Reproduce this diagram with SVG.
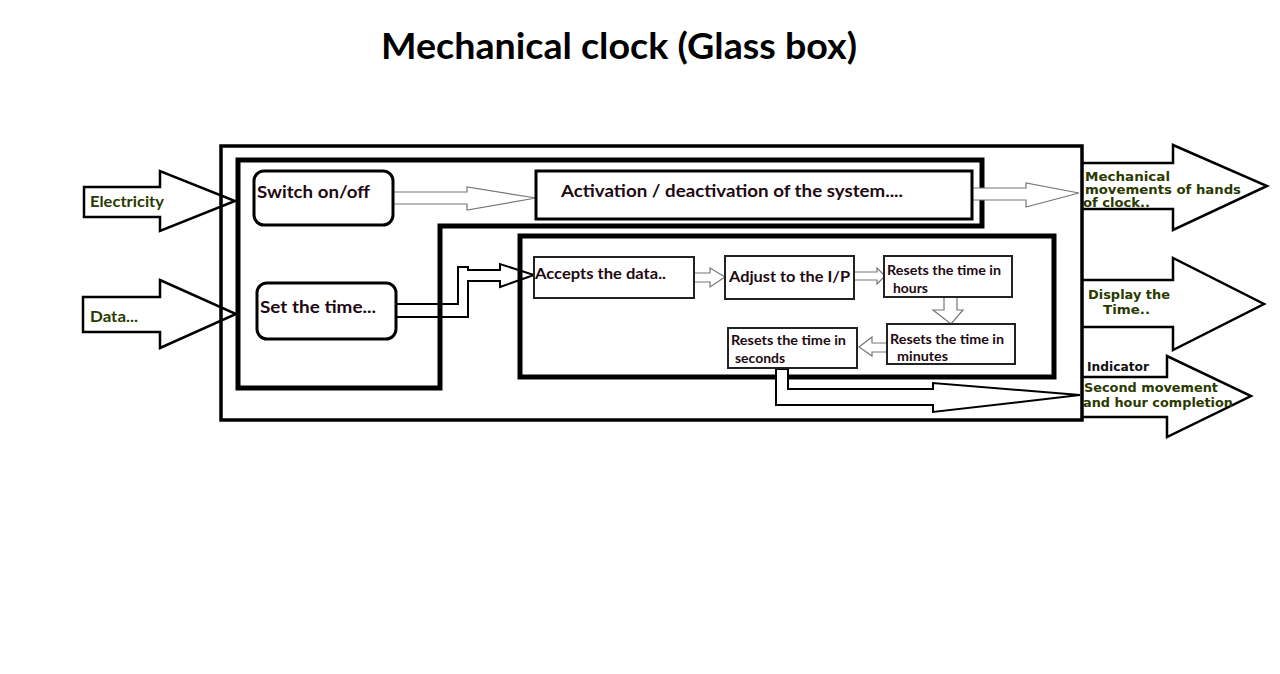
<svg xmlns="http://www.w3.org/2000/svg" width="1280" height="674" viewBox="0 0 1280 674">
<style>
.bx{font-family:Lato,"Liberation Sans",sans-serif;font-weight:bold;fill:#1e0a12}
.gr{font-family:"DejaVu Sans",Verdana,sans-serif;font-weight:bold;fill:#2a3a00}
.big{fill:#fff;stroke:#000;stroke-width:2.5;stroke-linejoin:miter}
.hol{fill:#fff;stroke:#777;stroke-width:1.2}
.sm{fill:#fff;stroke:#222;stroke-width:2}
</style>
<rect width="1280" height="674" fill="#fff"/>
<text x="619" y="59" text-anchor="middle" font-family="Lato,'Liberation Sans',sans-serif" font-weight="bold" font-size="37" textLength="476" lengthAdjust="spacingAndGlyphs" fill="#000">Mechanical clock (Glass box)</text>

<g id="input-electricity">
<path class="big" stroke-width="3" d="M84,187 H160 V171 L235,201 L160,231 V217 H84 Z"/>
<text class="bx" x="90" y="207" font-size="15" textLength="74" lengthAdjust="spacingAndGlyphs" style="fill:#2a3a00">Electricity</text>
</g>
<g id="input-data">
<path class="big" stroke-width="3" d="M83,297 H160 V280 L236,314 L160,348 V332 H83 Z"/>
<text class="bx" x="90" y="322" font-size="15" textLength="48" lengthAdjust="spacingAndGlyphs" style="fill:#2a3a00">Data...</text>
</g>

<g id="output-mechanical">
<path class="big" d="M1083,163 H1173 V145 L1267,186 L1173,230 V209 H1083"/>
<text class="gr" font-size="11.5"><tspan x="1085" y="181" textLength="85" lengthAdjust="spacingAndGlyphs">Mechanical</tspan><tspan x="1085" y="194" textLength="156" lengthAdjust="spacingAndGlyphs">movements of hands</tspan><tspan x="1083" y="207" textLength="67" lengthAdjust="spacingAndGlyphs">of clock..</tspan></text>
</g>
<g id="output-display">
<path class="big" d="M1083,280 H1173 V258 L1264,304 L1173,350 V327 H1083"/>
<text class="gr" font-size="11.5"><tspan x="1088" y="299" textLength="82" lengthAdjust="spacingAndGlyphs">Display the</tspan><tspan x="1103" y="314" textLength="47" lengthAdjust="spacingAndGlyphs">Time..</tspan></text>
</g>
<g id="output-indicator">
<path class="big" d="M1083,377 H1167 V356 L1251,396 L1167,437 V417 H1083"/>
<text x="1087" y="371" font-family="'DejaVu Sans',Verdana,sans-serif" font-weight="bold" font-size="11.5" textLength="62" lengthAdjust="spacingAndGlyphs" fill="#111">Indicator</text>
<text class="gr" font-size="11.5"><tspan x="1084" y="392" textLength="134" lengthAdjust="spacingAndGlyphs">Second movement</tspan><tspan x="1083" y="407" textLength="150" lengthAdjust="spacingAndGlyphs">and hour completion</tspan></text>
</g>

<g id="glass-box">
<rect x="221" y="146" width="861" height="274" fill="none" stroke="#000" stroke-width="3.5"/>
</g>
<g id="power-frame">
<path d="M238,160 H982 V226 H440 V388 H238 Z" fill="none" stroke="#000" stroke-width="5"/>
</g>
<g id="time-frame">
<rect x="520" y="236" width="534" height="141" fill="none" stroke="#000" stroke-width="5"/>
</g>

<g id="connectors">
<path class="hol" d="M393,192 H467 V187 L536,198 L467,210 V204 H393"/>
<path class="hol" d="M972,188 H1026 V183 L1079,193 L1026,207 V200 H972"/>
<path d="M396,304 H458 V267 H468 V270 H500 V264 L534,275 L500,287 V281 H468 V317 H396" fill="none" stroke="#000" stroke-width="2"/>
<path class="hol" d="M694,273 H710 V268 L725,277 L710,287 V282 H694"/>
<path class="hol" d="M853,272 H877 V268 L885,276 L877,284 V280 H853"/>
<path class="hol" d="M944,297 V310 H933 L951,324 L963,310 H957 V297"/>
<path class="hol" d="M887,343 H872 V337 L859,347 L872,356 V352 H887"/>
<path d="M776,369 V405 H933 V412 L1080,395 L933,383 V389 H788 V369 Z" fill="#fff" stroke="#000" stroke-width="2"/>
</g>

<g id="switch">
<rect x="254" y="171" width="139" height="54" rx="10" fill="#fff" stroke="#000" stroke-width="3"/>
<text class="bx" x="257" y="198" font-size="17" textLength="113" lengthAdjust="spacingAndGlyphs">Switch on/off</text>
</g>
<g id="activation">
<rect x="536" y="171" width="436" height="48" fill="#fff" stroke="#000" stroke-width="3"/>
<text class="bx" x="561" y="197" font-size="17" textLength="342" lengthAdjust="spacingAndGlyphs">Activation / deactivation of the system....</text>
</g>
<g id="set-time">
<rect x="257" y="283" width="139" height="56" rx="10" fill="#fff" stroke="#000" stroke-width="3"/>
<text class="bx" x="260" y="313" font-size="17" textLength="116" lengthAdjust="spacingAndGlyphs">Set the time...</text>
</g>
<g id="accepts">
<rect x="534" y="257" width="160" height="41" class="sm"/>
<text class="bx" x="535" y="279" font-size="16" textLength="131" lengthAdjust="spacingAndGlyphs">Accepts the data..</text>
</g>
<g id="adjust">
<rect x="725" y="256" width="129" height="43" class="sm"/>
<text class="bx" x="729" y="282" font-size="16" textLength="121" lengthAdjust="spacingAndGlyphs">Adjust to the I/P</text>
</g>
<g id="hours">
<rect x="884" y="256" width="128" height="41" class="sm"/>
<text class="bx" font-size="13"><tspan x="887" y="275" textLength="114" lengthAdjust="spacingAndGlyphs">Resets the time in</tspan><tspan x="893" y="293" textLength="35" lengthAdjust="spacingAndGlyphs">hours</tspan></text>
</g>
<g id="minutes">
<rect x="887" y="324" width="128" height="40" class="sm"/>
<text class="bx" font-size="13"><tspan x="890" y="344" textLength="114" lengthAdjust="spacingAndGlyphs">Resets the time in</tspan><tspan x="897" y="361" textLength="51" lengthAdjust="spacingAndGlyphs">minutes</tspan></text>
</g>
<g id="seconds">
<rect x="728" y="328" width="129" height="40" class="sm"/>
<text class="bx" font-size="13"><tspan x="731" y="345" textLength="115" lengthAdjust="spacingAndGlyphs">Resets the time in</tspan><tspan x="735" y="363" textLength="50" lengthAdjust="spacingAndGlyphs">seconds</tspan></text>
</g>
</svg>
